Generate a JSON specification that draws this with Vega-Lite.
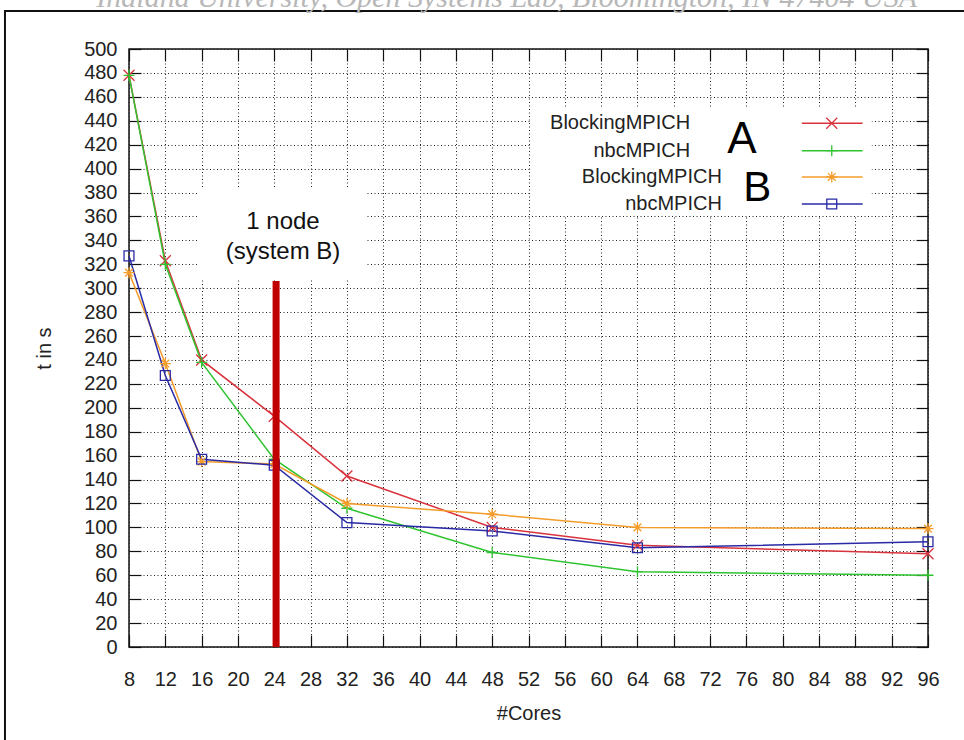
{
  "$schema": "https://vega.github.io/schema/vega-lite/v6.json",
  "width": 799,
  "height": 598,
  "autosize": {"type": "none"},
  "padding": {"left": 129, "top": 49, "right": 36, "bottom": 93},
  "background": "white",
  "config": {"view": {"stroke": "#111", "strokeWidth": 1.5}, "font": "Liberation Sans"},
  "datasets": {
    "timings": [
      {"cores": 8, "t": 478, "series": "BlockingMPICH A"},
      {"cores": 12, "t": 323, "series": "BlockingMPICH A"},
      {"cores": 16, "t": 240, "series": "BlockingMPICH A"},
      {"cores": 24, "t": 193, "series": "BlockingMPICH A"},
      {"cores": 32, "t": 143, "series": "BlockingMPICH A"},
      {"cores": 48, "t": 100, "series": "BlockingMPICH A"},
      {"cores": 64, "t": 85, "series": "BlockingMPICH A"},
      {"cores": 96, "t": 78, "series": "BlockingMPICH A"},
      {"cores": 8, "t": 478, "series": "nbcMPICH A"},
      {"cores": 12, "t": 320, "series": "nbcMPICH A"},
      {"cores": 16, "t": 238, "series": "nbcMPICH A"},
      {"cores": 24, "t": 157, "series": "nbcMPICH A"},
      {"cores": 32, "t": 116, "series": "nbcMPICH A"},
      {"cores": 48, "t": 79, "series": "nbcMPICH A"},
      {"cores": 64, "t": 63, "series": "nbcMPICH A"},
      {"cores": 96, "t": 60, "series": "nbcMPICH A"},
      {"cores": 8, "t": 313, "series": "BlockingMPICH B"},
      {"cores": 12, "t": 237, "series": "BlockingMPICH B"},
      {"cores": 16, "t": 155, "series": "BlockingMPICH B"},
      {"cores": 24, "t": 153, "series": "BlockingMPICH B"},
      {"cores": 32, "t": 120, "series": "BlockingMPICH B"},
      {"cores": 48, "t": 111, "series": "BlockingMPICH B"},
      {"cores": 64, "t": 100, "series": "BlockingMPICH B"},
      {"cores": 96, "t": 99, "series": "BlockingMPICH B"},
      {"cores": 8, "t": 327, "series": "nbcMPICH B"},
      {"cores": 12, "t": 227, "series": "nbcMPICH B"},
      {"cores": 16, "t": 157, "series": "nbcMPICH B"},
      {"cores": 24, "t": 152, "series": "nbcMPICH B"},
      {"cores": 32, "t": 104, "series": "nbcMPICH B"},
      {"cores": 48, "t": 97, "series": "nbcMPICH B"},
      {"cores": 64, "t": 83, "series": "nbcMPICH B"},
      {"cores": 96, "t": 88, "series": "nbcMPICH B"}
    ]
  },
  "resolve": {"axis": {"x": "independent", "y": "independent"}},
  "layer": [
    {
      "data": {"values": [{}]},
      "mark": {"type": "rect", "fill": "transparent", "stroke": "#111", "strokeWidth": 2, "clip": false},
      "encoding": {
        "x": {"datum": -5.66, "type": "quantitative", "scale": {"domain": [8, 96], "nice": false, "zero": false}, "axis": null},
        "x2": {"datum": 130},
        "y": {"datum": 531.8, "type": "quantitative", "scale": {"domain": [0, 500], "nice": false, "zero": false}, "axis": null},
        "y2": {"datum": -150}
      }
    },
    {
      "data": {"values": [{}]},
      "mark": {"type": "text", "text": "Indiana University, Open Systems Lab, Bloomington, IN 47404 USA", "font": "Liberation Serif", "fontStyle": "italic", "fontSize": 30, "color": "#b8b8b8", "align": "center", "baseline": "alphabetic", "clip": false},
      "encoding": {
        "x": {"datum": 49.6, "type": "quantitative", "scale": {"domain": [8, 96], "nice": false, "zero": false}, "axis": null},
        "y": {"datum": 535.5, "type": "quantitative", "scale": {"domain": [0, 500], "nice": false, "zero": false}, "axis": null}
      }
    },
    {
      "data": {"values": [{}]},
      "mark": {"type": "rect", "fill": "white", "stroke": null},
      "encoding": {
        "x": {"datum": 52.2, "type": "quantitative", "scale": {"domain": [8, 96], "nice": false, "zero": false}, "axis": null},
        "x2": {"datum": 89.8},
        "y": {"datum": 450.7, "type": "quantitative", "scale": {"domain": [0, 500], "nice": false, "zero": false}, "axis": null},
        "y2": {"datum": 360.4}
      }
    },
    {
      "data": {"values": [{}]},
      "mark": {"type": "rect", "fill": "white", "stroke": null},
      "encoding": {
        "x": {"datum": 15.6, "type": "quantitative", "scale": {"domain": [8, 96], "nice": false, "zero": false}, "axis": null},
        "x2": {"datum": 34.0},
        "y": {"datum": 383.8, "type": "quantitative", "scale": {"domain": [0, 500], "nice": false, "zero": false}, "axis": null},
        "y2": {"datum": 307.5}
      }
    },
    {
      "data": {"name": "timings"},
      "mark": {"type": "line", "strokeWidth": 1.5},
      "encoding": {
        "x": {
          "field": "cores", "type": "quantitative",
          "scale": {"domain": [8, 96], "nice": false, "zero": false},
          "axis": {
            "orient": "bottom",
            "values": [8, 12, 16, 20, 24, 28, 32, 36, 40, 44, 48, 52, 56, 60, 64, 68, 72, 76, 80, 84, 88, 92, 96],
            "title": "#Cores", "titleFontSize": 20, "titleFontWeight": "normal", "titleColor": "#222", "titlePadding": 14,
            "labelFontSize": 20, "labelColor": "#222", "labelPadding": 34, "labelFlush": false, "labelOverlap": false,
            "tickSize": -12, "tickColor": "#111", "tickWidth": 1.2, "domain": false,
            "grid": true, "gridColor": "#222", "gridDash": [1, 2.5], "gridOpacity": 1, "gridWidth": 1
          }
        },
        "y": {
          "field": "t", "type": "quantitative",
          "scale": {"domain": [0, 500], "nice": false, "zero": false},
          "axis": {
            "orient": "left",
            "values": [0, 20, 40, 60, 80, 100, 120, 140, 160, 180, 200, 220, 240, 260, 280, 300, 320, 340, 360, 380, 400, 420, 440, 460, 480, 500],
            "title": "t in s", "titleFontSize": 20, "titleFontWeight": "normal", "titleColor": "#222", "titlePadding": 29,
            "labelFontSize": 20, "labelColor": "#222", "labelPadding": 24, "labelFlush": false, "labelOverlap": false,
            "tickSize": -12, "tickColor": "#111", "tickWidth": 1.2, "domain": false,
            "grid": true, "gridColor": "#222", "gridDash": [1, 2.5], "gridOpacity": 1, "gridWidth": 1
          }
        },
        "color": {
          "field": "series", "type": "nominal",
          "scale": {"domain": ["BlockingMPICH A", "nbcMPICH A", "BlockingMPICH B", "nbcMPICH B"], "range": ["#d9323c", "#2fc42f", "#f39c2a", "#2a2aa6"]},
          "legend": null
        }
      }
    },
    {
      "data": {"name": "timings"},
      "mark": {"type": "point", "filled": false, "strokeWidth": 1.3, "size": 121, "opacity": 1},
      "encoding": {
        "x": {
          "field": "cores", "type": "quantitative",
          "scale": {"domain": [8, 96], "nice": false, "zero": false},
          "axis": {
            "orient": "top",
            "values": [8, 12, 16, 20, 24, 28, 32, 36, 40, 44, 48, 52, 56, 60, 64, 68, 72, 76, 80, 84, 88, 92, 96],
            "title": null, "labels": false, "domain": false, "grid": false,
            "tickSize": -12, "tickColor": "#111", "tickWidth": 1.2
          }
        },
        "y": {
          "field": "t", "type": "quantitative",
          "scale": {"domain": [0, 500], "nice": false, "zero": false},
          "axis": {
            "orient": "right",
            "values": [0, 20, 40, 60, 80, 100, 120, 140, 160, 180, 200, 220, 240, 260, 280, 300, 320, 340, 360, 380, 400, 420, 440, 460, 480, 500],
            "title": null, "labels": false, "domain": false, "grid": false,
            "tickSize": -12, "tickColor": "#111", "tickWidth": 1.2
          }
        },
        "color": {
          "field": "series", "type": "nominal",
          "scale": {"domain": ["BlockingMPICH A", "nbcMPICH A", "BlockingMPICH B", "nbcMPICH B"], "range": ["#d9323c", "#2fc42f", "#f39c2a", "#2a2aa6"]},
          "legend": null
        },
        "shape": {
          "field": "series", "type": "nominal",
          "scale": {"domain": ["BlockingMPICH A", "nbcMPICH A", "BlockingMPICH B", "nbcMPICH B"], "range": ["M-1,-1L1,1M-1,1L1,-1", "M-1,0L1,0M0,-1L0,1", "M-1,0L1,0M0,-1L0,1M-0.7,-0.7L0.7,0.7M-0.7,0.7L0.7,-0.7", "M-0.9,-0.9L0.9,-0.9L0.9,0.9L-0.9,0.9Z"]},
          "legend": null
        }
      }
    },
    {
      "data": {"values": [{}]},
      "mark": {"type": "rule", "color": "#c00000", "strokeWidth": 7},
      "encoding": {
        "x": {"datum": 24.2, "type": "quantitative", "scale": {"domain": [8, 96], "nice": false, "zero": false}, "axis": null},
        "y": {"datum": 0, "type": "quantitative", "scale": {"domain": [0, 500], "nice": false, "zero": false}, "axis": null},
        "y2": {"datum": 306}
      }
    },
    {
      "data": {"values": [{}]},
      "mark": {"type": "text", "text": "1 node", "fontSize": 24, "color": "#111", "align": "center", "baseline": "middle"},
      "encoding": {
        "x": {"datum": 24.96, "type": "quantitative", "scale": {"domain": [8, 96], "nice": false, "zero": false}, "axis": null},
        "y": {"datum": 355.5, "type": "quantitative", "scale": {"domain": [0, 500], "nice": false, "zero": false}, "axis": null}
      }
    },
    {
      "data": {"values": [{}]},
      "mark": {"type": "text", "text": "(system B)", "fontSize": 24, "color": "#111", "align": "center", "baseline": "middle"},
      "encoding": {
        "x": {"datum": 24.96, "type": "quantitative", "scale": {"domain": [8, 96], "nice": false, "zero": false}, "axis": null},
        "y": {"datum": 330.5, "type": "quantitative", "scale": {"domain": [0, 500], "nice": false, "zero": false}, "axis": null}
      }
    },
    {
      "data": {"values": [{}]},
      "mark": {"type": "text", "text": "BlockingMPICH", "fontSize": 20, "color": "#222", "align": "right", "baseline": "middle"},
      "encoding": {
        "x": {"datum": 69.8, "type": "quantitative", "scale": {"domain": [8, 96], "nice": false, "zero": false}, "axis": null},
        "y": {"datum": 437.9, "type": "quantitative", "scale": {"domain": [0, 500], "nice": false, "zero": false}, "axis": null}
      }
    },
    {
      "data": {"values": [{}]},
      "mark": {"type": "text", "text": "nbcMPICH", "fontSize": 20, "color": "#222", "align": "right", "baseline": "middle"},
      "encoding": {
        "x": {"datum": 69.8, "type": "quantitative", "scale": {"domain": [8, 96], "nice": false, "zero": false}, "axis": null},
        "y": {"datum": 415.0, "type": "quantitative", "scale": {"domain": [0, 500], "nice": false, "zero": false}, "axis": null}
      }
    },
    {
      "data": {"values": [{}]},
      "mark": {"type": "text", "text": "BlockingMPICH", "fontSize": 20, "color": "#222", "align": "right", "baseline": "middle"},
      "encoding": {
        "x": {"datum": 73.3, "type": "quantitative", "scale": {"domain": [8, 96], "nice": false, "zero": false}, "axis": null},
        "y": {"datum": 393.0, "type": "quantitative", "scale": {"domain": [0, 500], "nice": false, "zero": false}, "axis": null}
      }
    },
    {
      "data": {"values": [{}]},
      "mark": {"type": "text", "text": "nbcMPICH", "fontSize": 20, "color": "#222", "align": "right", "baseline": "middle"},
      "encoding": {
        "x": {"datum": 73.3, "type": "quantitative", "scale": {"domain": [8, 96], "nice": false, "zero": false}, "axis": null},
        "y": {"datum": 370.4, "type": "quantitative", "scale": {"domain": [0, 500], "nice": false, "zero": false}, "axis": null}
      }
    },
    {
      "data": {"values": [{}]},
      "mark": {"type": "text", "text": "A", "fontSize": 44, "color": "#000", "align": "center", "baseline": "middle"},
      "encoding": {
        "x": {"datum": 75.5, "type": "quantitative", "scale": {"domain": [8, 96], "nice": false, "zero": false}, "axis": null},
        "y": {"datum": 423.9, "type": "quantitative", "scale": {"domain": [0, 500], "nice": false, "zero": false}, "axis": null}
      }
    },
    {
      "data": {"values": [{}]},
      "mark": {"type": "text", "text": "B", "fontSize": 42, "color": "#000", "align": "center", "baseline": "middle"},
      "encoding": {
        "x": {"datum": 77.2, "type": "quantitative", "scale": {"domain": [8, 96], "nice": false, "zero": false}, "axis": null},
        "y": {"datum": 383.5, "type": "quantitative", "scale": {"domain": [0, 500], "nice": false, "zero": false}, "axis": null}
      }
    },
    {
      "data": {"values": [{}]},
      "mark": {"type": "rule", "color": "#d9323c", "strokeWidth": 1.5},
      "encoding": {
        "x": {"datum": 82.1, "type": "quantitative", "scale": {"domain": [8, 96], "nice": false, "zero": false}, "axis": null},
        "x2": {"datum": 88.8},
        "y": {"datum": 437.9, "type": "quantitative", "scale": {"domain": [0, 500], "nice": false, "zero": false}, "axis": null}
      }
    },
    {
      "data": {"values": [{}]},
      "mark": {"type": "rule", "color": "#2fc42f", "strokeWidth": 1.5},
      "encoding": {
        "x": {"datum": 82.1, "type": "quantitative", "scale": {"domain": [8, 96], "nice": false, "zero": false}, "axis": null},
        "x2": {"datum": 88.8},
        "y": {"datum": 415.0, "type": "quantitative", "scale": {"domain": [0, 500], "nice": false, "zero": false}, "axis": null}
      }
    },
    {
      "data": {"values": [{}]},
      "mark": {"type": "rule", "color": "#f39c2a", "strokeWidth": 1.5},
      "encoding": {
        "x": {"datum": 82.1, "type": "quantitative", "scale": {"domain": [8, 96], "nice": false, "zero": false}, "axis": null},
        "x2": {"datum": 88.8},
        "y": {"datum": 393.0, "type": "quantitative", "scale": {"domain": [0, 500], "nice": false, "zero": false}, "axis": null}
      }
    },
    {
      "data": {"values": [{}]},
      "mark": {"type": "rule", "color": "#2a2aa6", "strokeWidth": 1.5},
      "encoding": {
        "x": {"datum": 82.1, "type": "quantitative", "scale": {"domain": [8, 96], "nice": false, "zero": false}, "axis": null},
        "x2": {"datum": 88.8},
        "y": {"datum": 370.4, "type": "quantitative", "scale": {"domain": [0, 500], "nice": false, "zero": false}, "axis": null}
      }
    },
    {
      "data": {"values": [{}]},
      "mark": {"type": "point", "filled": false, "shape": "M-1,-1L1,1M-1,1L1,-1", "size": 121, "strokeWidth": 1.3, "color": "#d9323c", "opacity": 1},
      "encoding": {
        "x": {"datum": 85.4, "type": "quantitative", "scale": {"domain": [8, 96], "nice": false, "zero": false}, "axis": null},
        "y": {"datum": 437.9, "type": "quantitative", "scale": {"domain": [0, 500], "nice": false, "zero": false}, "axis": null}
      }
    },
    {
      "data": {"values": [{}]},
      "mark": {"type": "point", "filled": false, "shape": "M-1,0L1,0M0,-1L0,1", "size": 121, "strokeWidth": 1.3, "color": "#2fc42f", "opacity": 1},
      "encoding": {
        "x": {"datum": 85.4, "type": "quantitative", "scale": {"domain": [8, 96], "nice": false, "zero": false}, "axis": null},
        "y": {"datum": 415.0, "type": "quantitative", "scale": {"domain": [0, 500], "nice": false, "zero": false}, "axis": null}
      }
    },
    {
      "data": {"values": [{}]},
      "mark": {"type": "point", "filled": false, "shape": "M-1,0L1,0M0,-1L0,1M-0.7,-0.7L0.7,0.7M-0.7,0.7L0.7,-0.7", "size": 121, "strokeWidth": 1.3, "color": "#f39c2a", "opacity": 1},
      "encoding": {
        "x": {"datum": 85.4, "type": "quantitative", "scale": {"domain": [8, 96], "nice": false, "zero": false}, "axis": null},
        "y": {"datum": 393.0, "type": "quantitative", "scale": {"domain": [0, 500], "nice": false, "zero": false}, "axis": null}
      }
    },
    {
      "data": {"values": [{}]},
      "mark": {"type": "point", "filled": false, "shape": "M-0.9,-0.9L0.9,-0.9L0.9,0.9L-0.9,0.9Z", "size": 121, "strokeWidth": 1.3, "color": "#2a2aa6", "opacity": 1},
      "encoding": {
        "x": {"datum": 85.4, "type": "quantitative", "scale": {"domain": [8, 96], "nice": false, "zero": false}, "axis": null},
        "y": {"datum": 370.4, "type": "quantitative", "scale": {"domain": [0, 500], "nice": false, "zero": false}, "axis": null}
      }
    }
  ]
}
